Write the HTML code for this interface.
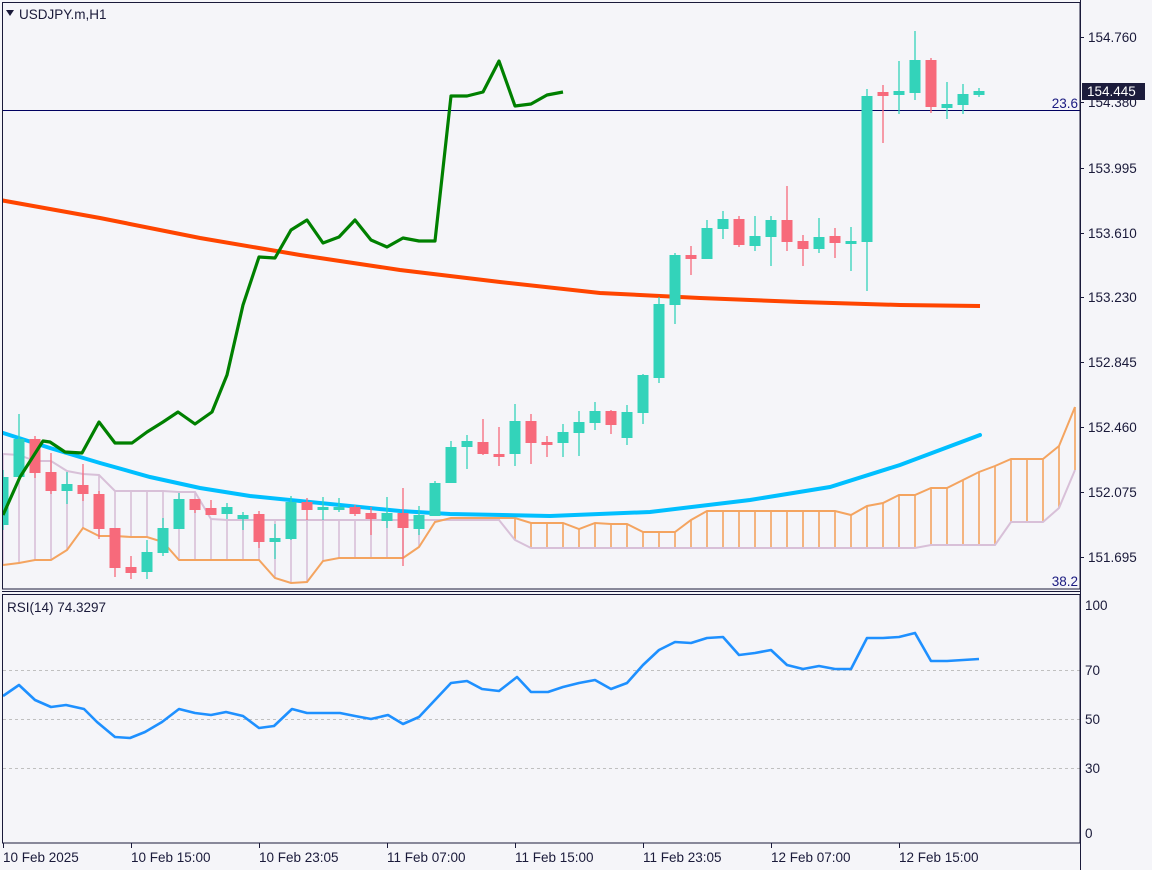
<!DOCTYPE html>
<html><head><meta charset="utf-8"><style>
html,body{margin:0;padding:0;background:#f5f5f9;}
svg{display:block;}
text{font-family:"Liberation Sans",sans-serif;}
</style></head><body>
<svg id="s" width="1152" height="870" viewBox="0 0 1152 870" xmlns="http://www.w3.org/2000/svg">
<rect width="1152" height="870" fill="#f5f5f9"/>
<defs><clipPath id="mc"><rect x="3" y="3" width="1077" height="585"/></clipPath>
<clipPath id="rc"><rect x="3" y="595" width="1077" height="247"/></clipPath></defs>
<g id="main" clip-path="url(#mc)"></g>
<g id="rsi" clip-path="url(#rc)"></g>
<g id="axes"></g>
</svg>
<script>
const NS="http://www.w3.org/2000/svg";
function el(p,t,a,txt){const e=document.createElementNS(NS,t);for(const k in a)e.setAttribute(k,a[k]);if(txt!==undefined)e.textContent=txt;document.getElementById(p).appendChild(e);return e;}
const X=i=>3+16*i;
const lil=[454,455,461,461,471,474,475,491,491,491,491,492,492,519];
while(lil.length<32)lil.push(520);
lil.push(540);while(lil.length<58)lil.push(548);
lil.push(545,545,545,545,545,522,522,522,508,470);
const org=[565,563,560,560,550,528,536,536,537,537,542,560,560,560,560,560,560,578,583,582,561,558,558,558,558,558,547,522,518,518,518,518,518,523,523,523,529,523,524,524,532,532,532,520,511,511,511,511,511,511,511,511,511,515,506,503,495,495,488,488,480,472,466,459,459,459,446,407];
for(let i=0;i<68;i++){const a=lil[i],b=org[i];if(Math.abs(a-b)<2)continue;
el('main','line',{x1:X(i),x2:X(i),y1:a,y2:b,stroke:a<b?'#d8c0d8':'#f4a460','stroke-width':1.6});}
const pl=arr=>arr.map((v,i)=>X(i)+','+v).join(' ');
el('main','polyline',{points:pl(lil),fill:'none',stroke:'#d8c0d8','stroke-width':2});
el('main','polyline',{points:pl(org),fill:'none',stroke:'#f4a460','stroke-width':2});
el('main','line',{x1:0,x2:1080,y1:110.5,y2:110.5,stroke:'#000060','stroke-width':1});
el('main','polyline',{points:'0,200 100,218 200,238 300,255 400,270 500,282 600,293 700,298 800,302 900,305 980,306',fill:'none',stroke:'#ff4500','stroke-width':4});
el('main','polyline',{points:'0,432 50,448 100,463 150,477 200,488 250,496 300,501 350,506 400,511 450,514 550,516 650,512 750,500 830,487 900,465 980,435',fill:'none',stroke:'#00bfff','stroke-width':4,'stroke-linecap':'round'});
const C=[[525,477,470,530],[477,439,414,477],[439,473,436,478],[472,491,453,494],[491,484,472,504],[485,494,464,501],[494,529,491,539],[528,568,528,577],[567,573,556,579],[572,552,540,579],[553,528,518,556],[529,499,493,529],[499,510,499,513],[508,515,500,515],[514,507,503,519],[519,515,512,530],[514,542,511,548],[542,538,524,559],[539,502,496,540],[502,510,498,520],[510,507,497,520],[509,507,498,512],[507,514,505,516],[513,519,507,535],[521,513,497,528],[513,528,488,566],[529,515,506,535],[516,483,481,516],[483,447,441,483],[447,441,435,469],[442,454,419,455],[454,456,427,466],[454,421,404,466],[421,443,414,464],[442,444,436,457],[443,432,424,457],[433,422,411,456],[423,411,402,430],[411,425,410,434],[438,412,405,445],[413,375,374,424],[378,304,297,383],[305,255,253,324],[255,259,246,275],[259,228,220,259],[229,219,211,239],[219,245,216,247],[246,236,216,251],[237,220,216,266],[220,242,186,251],[241,249,235,266],[249,237,218,253],[236,243,228,258],[243,241,227,271],[242,96,89,291],[92,96,85,143],[95,91,61,114],[93,60,31,100],[60,107,58,113],[108,104,82,119],[105,94,84,114],[95,91,88,97]];
C.forEach((c,i)=>{const [o,cl,h,l]=c;const up=cl<=o;const col=up?'#33d3ba':'#f76a7b';const x=X(i);
el('main','line',{x1:x,x2:x,y1:h,y2:l,stroke:col,'stroke-width':1.3});
const t=Math.min(o,cl),bh=Math.max(Math.abs(o-cl),3);
el('main','rect',{x:x-5.5,y:t,width:11,height:bh,fill:col});});
el('main','polyline',{points:'3,515 20,477 43,441 50,442 65,452 82,453 99,422 115,443 132,443 147,432 163,422 178,412 195,424 212,412 227,375 243,305 259,257 275,258 291,230 307,220 323,243 339,237 355,220 371,240 387,247 403,238 419,241 435,241 451,96 467,96 483,92 499,61 515,106 531,104 547,95 563,92',fill:'none',stroke:'#008000','stroke-width':3.2,'stroke-linejoin':'round'});
[670,719,768].forEach(y=>el('rsi','line',{x1:3,x2:1080,y1:y+.5,y2:y+.5,stroke:'#c0c0c0','stroke-dasharray':'3,3','stroke-width':1}));
el('rsi','polyline',{points:'3,696 19,685 35,700 51,707 66,705 84,709 97,722 115,737 130,738 145,732 162,722 179,709 195,713 211,715 226,712 243,716 259,728 274,726 292,709 307,713 340,713 355,716 371,719 388,715 403,724 419,717 435,700 451,683 467,681 482,689 499,691 517,677 531,692 548,692 563,687 579,683 595,680 611,689 627,683 643,665 659,650 675,642 691,643 707,638 723,637 739,655 755,653 771,650 787,665 803,669 819,666 835,669 851,669 867,638 883,638 899,637 915,633 931,661 947,661 963,660 979,659',fill:'none',stroke:'#1e90ff','stroke-width':2.6,'stroke-linejoin':'round'});
const A='axes';const fc='#1a1a3a';const fs=13.5;
el(A,'rect',{x:2.5,y:2.5,width:1077.5,height:586.5,fill:'none',stroke:fc,'stroke-width':1});
el(A,'line',{x1:2,x2:1080,y1:591.5,y2:591.5,stroke:fc});
el(A,'rect',{x:2.5,y:594.5,width:1077.5,height:248.5,fill:'none',stroke:fc,'stroke-width':1});
el(A,'line',{x1:1080.5,x2:1080.5,y1:0,y2:870,stroke:fc});
el(A,'path',{d:'M6,10 L14,10 L10,16 Z',fill:'#1a1a3a'});
el(A,'text',{x:19,y:19,'font-size':fs,fill:'#1a1a3a'},'USDJPY.m,H1');
el(A,'text',{x:7,y:612,'font-size':fs,fill:'#1a1a3a'},'RSI(14) 74.3297');
[[37,'154.760'],[102,'154.380'],[168,'153.995'],[233,'153.610'],[297,'153.230'],[362,'152.845'],[427,'152.460'],[492,'152.075'],[557,'151.695']].forEach(([y,t])=>{
el(A,'line',{x1:1080,x2:1084,y1:y+.5,y2:y+.5,stroke:fc});
el(A,'text',{x:1088,y:y+5,'font-size':fs,fill:'#1a1a3a'},t);});
el(A,'rect',{x:1082,y:83,width:63,height:17,fill:'#1c1c3c'});
el(A,'text',{x:1087,y:96,'font-size':fs,fill:'#ffffff'},'154.445');
el(A,'text',{x:1078,y:108,'font-size':fs,fill:'#1a1a80','text-anchor':'end'},'23.6');
el(A,'text',{x:1078,y:586,'font-size':fs,fill:'#1a1a80','text-anchor':'end'},'38.2');
[[605,'100'],[670,'70'],[719,'50'],[768,'30'],[833,'0']].forEach(([y,t])=>el(A,'text',{x:1085,y:y+5,'font-size':fs,fill:'#1a1a3a'},t));
[[3,'10 Feb 2025'],[131,'10 Feb 15:00'],[259,'10 Feb 23:05'],[387,'11 Feb 07:00'],[515,'11 Feb 15:00'],[643,'11 Feb 23:05'],[771,'12 Feb 07:00'],[899,'12 Feb 15:00']].forEach(([x,t])=>{
el(A,'line',{x1:x+.5,x2:x+.5,y1:843,y2:848,stroke:fc});
el(A,'text',{x:x,y:862,'font-size':fs,fill:'#1a1a3a'},t);});
</script>
</body></html>
